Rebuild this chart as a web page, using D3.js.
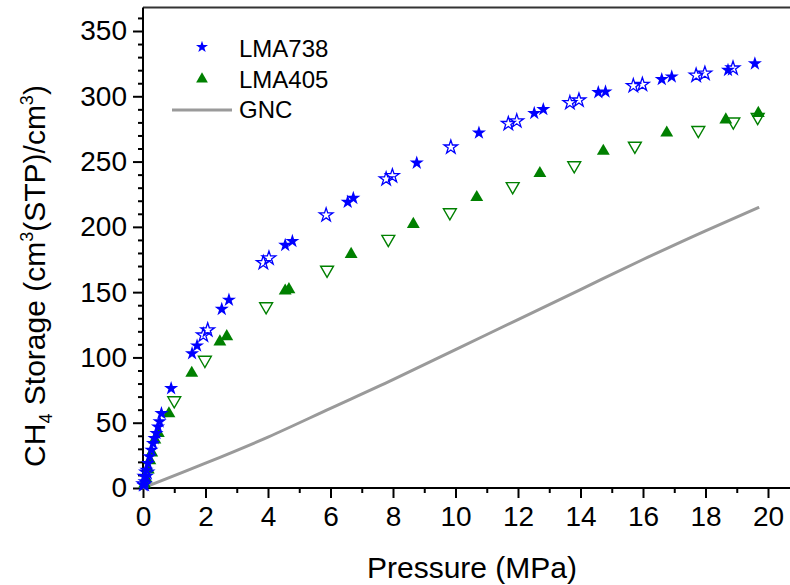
<!DOCTYPE html>
<html>
<head>
<meta charset="utf-8">
<script src="https://cdn.jsdelivr.net/npm/d3@7"></script>
<style>
html,body{margin:0;padding:0;background:#fff;}
svg{display:block;font-family:"Liberation Sans",Arial,sans-serif;}
</style>
</head>
<body>
<svg id="chart" width="790" height="585"></svg>
<script>
// ---- data ----
const xTicks = [0,2,4,6,8,10,12,14,16,18,20];
const yTicks = [0,50,100,150,200,250,300,350];
const seriesNames = ["LMA738","LMA405","GNC"];

// LMA738 adsorption (filled stars)
const lma738AdsP = [0.02,0.05,0.07,0.11,0.16,0.21,0.27,0.32,0.37,0.43,0.48,0.53,0.59,0.9,1.57,1.73,2.52,2.75,4.55,4.78,6.55,6.73,8.76,10.75,12.52,12.81,14.57,14.8,16.6,16.92,18.72,19.58];
const lma738AdsV = [2,5,9,13.8,18.9,24,29.1,34.2,38,41.9,46.9,50.8,57.2,76.3,103,109,137,144,186,189,219,222,249,272,287,290,303,303.5,313,315,320,325];
// LMA738 desorption (open stars)
const lma738DesP = [0.03,0.07,0.12,1.93,2.07,3.85,4.03,5.86,7.78,7.98,9.85,11.69,11.96,13.66,13.95,15.69,15.98,17.7,17.98,18.88];
const lma738DesV = [3,8.7,12,117,121,172.5,176,209,236.6,239,261,279,281,295,297,308,309,316,317.5,321.5];

// LMA405 adsorption (filled triangles)
const lma405AdsP = [0.05,0.1,0.17,0.22,0.28,0.38,0.49,0.83,1.56,2.46,2.68,4.55,4.67,6.66,8.65,10.68,12.7,14.73,16.76,18.65,19.69];
const lma405AdsV = [3,7,14,21,27,37,42,57,88,112,116,151,152,179,202,222.6,241,258,272,282,287];
// LMA405 desorption (open down-triangles)
const lma405DesP = [1.0,1.98,3.94,5.89,7.85,9.82,11.83,13.8,15.74,17.77,18.89,19.67];
const lma405DesV = [67,98,139,167,190.6,211,231,247,262,274,280.5,284];

// GNC curve
const gncP = [0,2,4,6,8,10,12,14,16,18,19.72];
const gncV = [0,19,39,61,83,106,129,152,175,197,215];

// ---- layout ----
const svg = d3.select("#chart");
const x = d3.scaleLinear().domain([0,20]).range([143,768]);
const y = d3.scaleLinear().domain([0,350]).range([488,31]);
const xEnd = 790, yTop = 7.5;

const blue = "#0000ff", green = "#008000", grey = "#9a9a9a";

// top frame line
svg.append("line").attr("x1",x(0)).attr("x2",xEnd).attr("y1",yTop).attr("y2",yTop)
  .attr("stroke","#333").attr("stroke-width",1.8);

// axes
const xMinor = d3.range(1,21,2);
const gx = svg.append("g").attr("transform",`translate(0,${y(0)})`);
gx.call(d3.axisBottom(x).tickValues(xMinor).tickSize(5).tickFormat(""));
gx.call(g=>g.select(".domain").remove());
const gx2 = svg.append("g").attr("transform",`translate(0,${y(0)})`);
gx2.call(d3.axisBottom(x).tickValues(xTicks).tickSize(10).tickPadding(8).tickFormat(d3.format("d")));
gx2.select(".domain").remove();
svg.append("line").attr("x1",x(0)-1).attr("x2",xEnd).attr("y1",y(0)).attr("y2",y(0)).attr("stroke","#000").attr("stroke-width",2);

const yMinor = d3.range(10,370,10).filter(v=>v%50!==0);
const gy = svg.append("g").attr("transform",`translate(${x(0)},0)`);
gy.call(d3.axisLeft(y).tickValues(yMinor).tickSize(5).tickFormat(""));
gy.select(".domain").remove();
const gy2 = svg.append("g").attr("transform",`translate(${x(0)},0)`);
gy2.call(d3.axisLeft(y).tickValues(yTicks).tickSize(10).tickPadding(6).tickFormat(d3.format("d")));
gy2.select(".domain").remove();
svg.append("line").attr("x1",x(0)).attr("x2",x(0)).attr("y1",y(0)+1).attr("y2",yTop).attr("stroke","#000").attr("stroke-width",2);

svg.selectAll(".tick line").attr("stroke","#000").attr("stroke-width",2);
svg.selectAll(".tick text").attr("font-size",28).attr("fill","#000")
  .attr("font-family","'Liberation Sans',Arial,sans-serif");

// axis titles
svg.append("text").attr("x",472).attr("y",578).attr("text-anchor","middle")
  .attr("font-size",30).text("Pressure (MPa)");
const yt = svg.append("text").attr("transform","translate(45,276) rotate(-90)")
  .attr("text-anchor","middle").attr("font-size",30);
yt.append("tspan").text("CH");
yt.append("tspan").attr("font-size",18).attr("dy",7).text("4");
yt.append("tspan").attr("dy",-7).text(" Storage (cm");
yt.append("tspan").attr("font-size",18).attr("dy",-12).text("3");
yt.append("tspan").attr("dy",12).text("(STP)/cm");
yt.append("tspan").attr("font-size",18).attr("dy",-12).text("3");
yt.append("tspan").attr("dy",12).text(")");

// GNC line
svg.append("path").datum(gncP.map((p,i)=>[p,gncV[i]]))
  .attr("fill","none").attr("stroke",grey).attr("stroke-width",3)
  .attr("d",d3.line().x(d=>x(d[0])).y(d=>y(d[1])).curve(d3.curveMonotoneX));

const star = d3.symbol().type(d3.symbolStar);
const tri = d3.symbol().type(d3.symbolTriangle);

function pts(P,V){return P.map((p,i)=>[p,V[i]]);}

// LMA405
svg.append("g").selectAll("path").data(pts(lma405DesP,lma405DesV)).join("path")
  .attr("d",tri.size(72)()).attr("transform",d=>`translate(${x(d[0])},${y(d[1])}) rotate(180)`)
  .attr("fill","#fff").attr("fill-opacity",0).attr("stroke",green).attr("stroke-width",1.4);
svg.append("g").selectAll("path").data(pts(lma405AdsP,lma405AdsV)).join("path")
  .attr("d",tri.size(72)()).attr("transform",d=>`translate(${x(d[0])},${y(d[1])})`)
  .attr("fill",green);

// LMA738
svg.append("g").selectAll("path").data(pts(lma738DesP,lma738DesV)).join("path")
  .attr("d",star.size(58)()).attr("transform",d=>`translate(${x(d[0])},${y(d[1])})`)
  .attr("fill","none").attr("stroke",blue).attr("stroke-width",1.3);
svg.append("g").selectAll("path").data(pts(lma738AdsP,lma738AdsV)).join("path")
  .attr("d",star.size(62)()).attr("transform",d=>`translate(${x(d[0])},${y(d[1])})`)
  .attr("fill",blue);

// legend
const lg = svg.append("g").attr("font-size",24);
lg.append("path").attr("d",star.size(45)()).attr("transform","translate(202,47)").attr("fill",blue);
lg.append("text").attr("x",239).attr("y",57).text(seriesNames[0]);
lg.append("path").attr("d",tri.size(60)()).attr("transform","translate(202,79)").attr("fill",green);
lg.append("text").attr("x",239).attr("y",88).text(seriesNames[1]);
lg.append("line").attr("x1",172).attr("x2",232).attr("y1",110).attr("y2",110).attr("stroke",grey).attr("stroke-width",3);
lg.append("text").attr("x",239).attr("y",118).text(seriesNames[2]);
</script>
</body>
</html>
